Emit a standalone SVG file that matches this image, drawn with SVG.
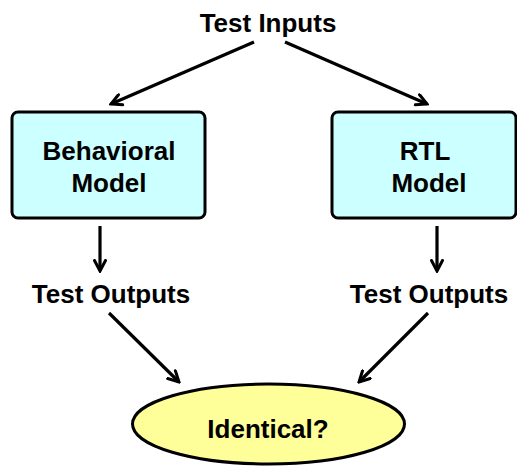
<svg xmlns="http://www.w3.org/2000/svg" width="517" height="466" viewBox="0 0 517 466">
<style>
text{font-family:"Liberation Sans",Arial,sans-serif;font-weight:bold;font-size:26px;fill:#000;text-anchor:middle}
.box{fill:#ccffff;stroke:#000;stroke-width:3}
.ell{fill:#ffff99;stroke:#000;stroke-width:3}
.c{stroke:#000;stroke-width:3.2;fill:none;marker-end:url(#ah)}
</style>
<defs>
<marker id="ah" viewBox="0 0 14 14" refX="12" refY="7" markerWidth="14" markerHeight="14" markerUnits="userSpaceOnUse" orient="auto">
<path d="M1.5,1.5 L12,7 L1.5,12.5" fill="none" stroke="#000" stroke-width="3" stroke-linecap="round" stroke-linejoin="miter"/>
</marker>
</defs>
<g id="inputs"><text x="268" y="32">Test Inputs</text></g>
<g id="behavioral"><rect class="box" x="12" y="112" width="193" height="106" rx="6"/><text x="109" y="160">Behavioral</text><text x="109" y="192">Model</text></g>
<g id="rtl"><rect class="box" x="332" y="112" width="184" height="106" rx="6"/><text x="425" y="160">RTL</text><text x="429" y="192">Model</text></g>
<g id="out1"><text x="111" y="303">Test Outputs</text></g>
<g id="out2"><text x="429" y="303">Test Outputs</text></g>
<g id="identical"><ellipse class="ell" cx="268.5" cy="424" rx="136" ry="40"/><text x="268" y="438">Identical?</text></g>
<g id="connectors">
<path class="c" d="M254,42 L111,104"/>
<path class="c" d="M285,42 L427,104"/>
<path class="c" d="M100,226 L100,271"/>
<path class="c" d="M437,226 L437,271"/>
<path class="c" d="M109,313 L179,382"/>
<path class="c" d="M428,313 L359,382"/>
</g>
</svg>
